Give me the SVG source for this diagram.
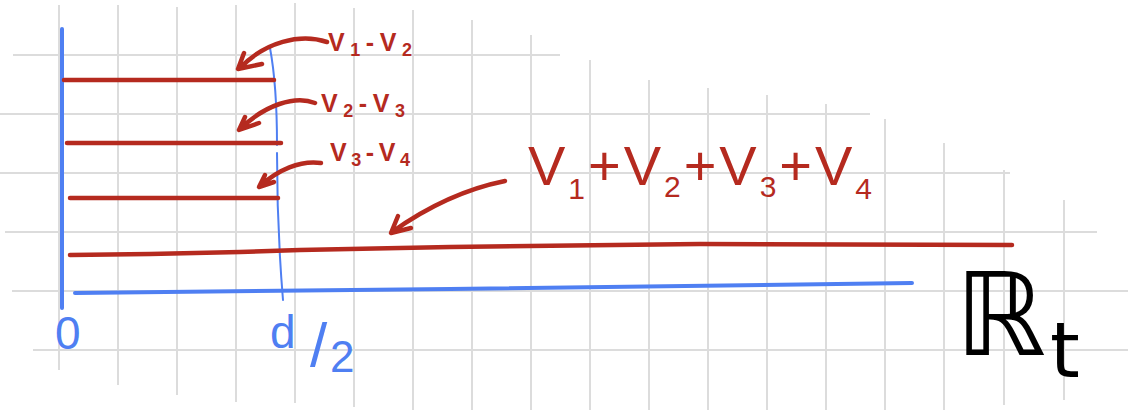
<svg xmlns="http://www.w3.org/2000/svg" width="1131" height="420" viewBox="0 0 1131 420">
<style>
.g{stroke:#dcdcdc;stroke-width:2;fill:none}
.r{stroke:#b52a1f;stroke-width:4.5;fill:none;stroke-linecap:round;stroke-linejoin:round}
.b{stroke:#4f7ff2;fill:none;stroke-linecap:round}
.lr{fill:#b52a1f;font-family:"Liberation Sans",sans-serif}
.sm{font-size:25px;font-weight:bold}
.lb{fill:#4f7ff2;font-family:"Liberation Sans",sans-serif}
</style>
<rect width="1131" height="420" fill="#fff"/>
<g id="grid">
<line class="g" x1="59" y1="5" x2="59" y2="370"/>
<line class="g" x1="118" y1="5" x2="118" y2="385"/>
<line class="g" x1="177" y1="7" x2="177" y2="395"/>
<line class="g" x1="236" y1="5" x2="236" y2="402"/>
<line class="g" x1="295" y1="3" x2="295" y2="403"/>
<line class="g" x1="354" y1="8" x2="354" y2="407"/>
<line class="g" x1="413" y1="10" x2="413" y2="410"/>
<line class="g" x1="472" y1="20" x2="472" y2="410"/>
<line class="g" x1="531" y1="35" x2="531" y2="410"/>
<line class="g" x1="590" y1="60" x2="590" y2="410"/>
<line class="g" x1="649" y1="80" x2="649" y2="410"/>
<line class="g" x1="708" y1="88" x2="708" y2="410"/>
<line class="g" x1="767" y1="95" x2="767" y2="410"/>
<line class="g" x1="826" y1="104" x2="826" y2="410"/>
<line class="g" x1="885" y1="119" x2="885" y2="410"/>
<line class="g" x1="944" y1="143" x2="944" y2="410"/>
<line class="g" x1="1004" y1="170" x2="1004" y2="405"/>
<line class="g" x1="1064" y1="200" x2="1064" y2="400"/>
<line class="g" x1="13" y1="55" x2="560" y2="55"/>
<line class="g" x1="0" y1="114" x2="870" y2="114"/>
<line class="g" x1="0" y1="173" x2="1010" y2="173"/>
<line class="g" x1="5" y1="232" x2="1097" y2="232"/>
<line class="g" x1="12" y1="291" x2="1128" y2="291"/>
<line class="g" x1="33" y1="350" x2="1128" y2="350"/>
</g>
<g id="axes">
<line class="b" x1="62" y1="29" x2="62" y2="308" stroke-width="4"/>
<path class="b" d="M75,293 L450,289 L912,283" stroke-width="4"/>
<path class="b" d="M270,48 C276,80 277,120 277,145 M277,153 C277,200 278,240 283,300" stroke-width="2"/>
</g>
<g id="levels">
<line class="r" x1="64" y1="80" x2="274" y2="80"/>
<line class="r" x1="67" y1="143" x2="281" y2="143"/>
<line class="r" x1="70" y1="198" x2="278" y2="198"/>
<path class="r" d="M70,255 L150,254 L240,252 L300,250 L450,247 L700,244 L1012,245"/>
</g>
<g id="connectors">
<path class="r" d="M327,42 C300,33 265,42 240,68 M244,53 L238,69 L262,64"/>
<path class="r" d="M315,103 C295,95 265,105 240,129 M245,117 L239,130 L259,123"/>
<path class="r" d="M321,163 C300,160 278,170 260,186 M265,175 L259,187 L274,182"/>
<path class="r" d="M505,181 C470,188 430,205 392,232 M398,216 L391,233 L411,228"/>
</g>
<g id="label-v1v2"><text class="lr sm" x="328" y="51" textLength="84" lengthAdjust="spacing">V<tspan font-size="18" dy="5">1</tspan><tspan dy="-5">-V</tspan><tspan font-size="18" dy="5">2</tspan></text></g>
<g id="label-v2v3"><text class="lr sm" x="321" y="112" textLength="84" lengthAdjust="spacing">V<tspan font-size="18" dy="5">2</tspan><tspan dy="-5">-V</tspan><tspan font-size="18" dy="5">3</tspan></text></g>
<g id="label-v3v4"><text class="lr sm" x="330" y="161" textLength="80" lengthAdjust="spacing">V<tspan font-size="18" dy="5">3</tspan><tspan dy="-5">-V</tspan><tspan font-size="18" dy="5">4</tspan></text></g>
<g id="label-sum"><text class="lr" x="528" y="185" font-size="56" textLength="344" lengthAdjust="spacing">V<tspan font-size="30" dy="14">1</tspan><tspan dy="-14">+V</tspan><tspan font-size="30" dy="12">2</tspan><tspan dy="-12">+V</tspan><tspan font-size="30" dy="12">3</tspan><tspan dy="-12">+V</tspan><tspan font-size="30" dy="14">4</tspan></text></g>
<g id="label-0"><text class="lb" x="55" y="349" font-size="46">0</text></g>
<g id="label-d2"><text class="lb" x="270" y="348" font-size="46">d<tspan x="310" y="366" font-size="62">/</tspan><tspan x="330" y="372" font-size="44">2</tspan></text></g>
<g id="label-R"><text x="955" y="355" font-size="115" font-family="DejaVu Sans,sans-serif" fill="#000">ℝ<tspan font-size="76" dx="4" dy="22">t</tspan></text></g>
</svg>
